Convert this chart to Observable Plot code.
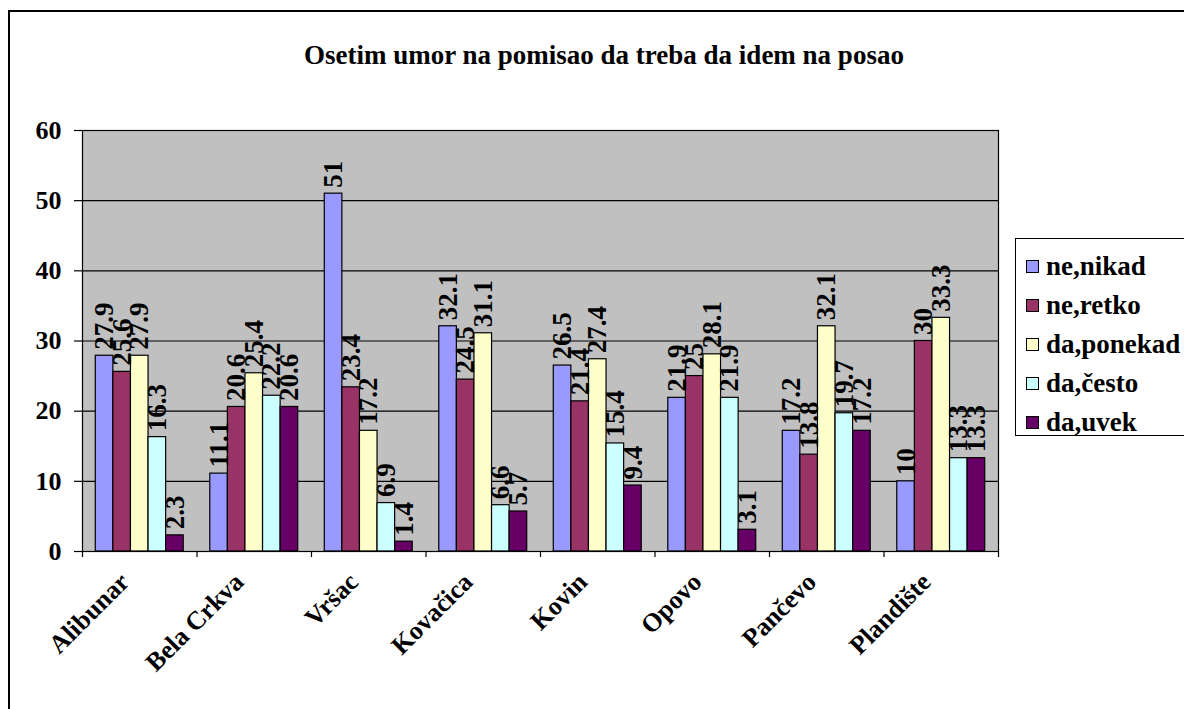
<!DOCTYPE html>
<html>
<head>
<meta charset="utf-8">
<script src="https://cdn.jsdelivr.net/npm/d3@7"></script>
<script src="https://cdn.jsdelivr.net/npm/@observablehq/plot@0.6"></script>
<style>
  body { margin: 0; background: #fff; font-family: 'Liberation Serif', 'DejaVu Serif', serif; }
  #wrap { position: relative; width: 1184px; height: 709px; overflow: hidden; background: #fff; }
  #border { position: absolute; left: 8px; top: 10px; width: 1300px; height: 800px; border: 2px solid #000; box-sizing: border-box; }
  #title { position: absolute; left: 0; top: 37px; width: 1208px; text-align: center; font-family: 'Liberation Serif', 'DejaVu Serif', serif; font-weight: bold; font-size: 27px; line-height: 36px; white-space: nowrap; }
  #chart { position: absolute; left: 0; top: 100px; }
  #legend { position: absolute; left: 1015px; top: 238px; width: 172px; height: 198px; border: 1.5px solid #000; box-sizing: border-box; background: #fff; padding-top: 8px; }
  .item { display: flex; align-items: center; height: 39px; font-family: 'Liberation Serif', 'DejaVu Serif', serif; font-weight: bold; font-size: 27px; white-space: nowrap; }
  .sw { width: 11px; height: 11px; border: 1px solid #000; margin-left: 10px; margin-right: 7px; flex: none; }
</style>
</head>
<body>
<div id="wrap">
  <div id="border"></div>
  <div id="title">Osetim umor na pomisao da treba da idem na posao</div>
  <div id="chart"></div>
  <div id="legend"></div>
</div>
<script>
const categories = ["Alibunar", "Bela Crkva", "Vršac", "Kovačica", "Kovin", "Opovo", "Pančevo", "Plandište"];
const seriesNames = ["ne,nikad", "ne,retko", "da,ponekad", "da,često", "da,uvek"];
const seriesColors = ["#9999FF", "#993366", "#FFFFCC", "#CCFFFF", "#660066"];
const neNikad   = [27.9, 11.1, 51,   32.1, 26.5, 21.9, 17.2, 10];
const neRetko   = [25.6, 20.6, 23.4, 24.5, 21.4, 25,   13.8, 30];
const daPonekad = [27.9, 25.4, 17.2, 31.1, 27.4, 28.1, 32.1, 33.3];
const daCesto   = [16.3, 22.2, 6.9,  6.6,  15.4, 21.9, 19.7, 13.3];
const daUvek    = [2.3,  20.6, 1.4,  5.7,  9.4,  3.1,  17.2, 13.3];
const yTicks = [0, 10, 20, 30, 40, 50, 60];

const seriesValues = [neNikad, neRetko, daPonekad, daCesto, daUvek];

// group layout in category units (each category occupies [i, i+1])
const gap = 0.232;
const barW = (1 - gap) / seriesNames.length;

const rows = [];
categories.forEach((c, i) => {
  seriesNames.forEach((s, j) => {
    const x1 = i + gap / 2 + j * barW;
    rows.push({category: c, series: s, value: seriesValues[j][i], x1, x2: x1 + barW, xm: x1 + barW / 2});
  });
});

const font = "'Liberation Serif', 'DejaVu Serif', serif";

const chart = Plot.plot({
  width: 1010,
  height: 609,
  marginTop: 30,
  marginLeft: 82,
  marginRight: 12,
  marginBottom: 158,
  style: {fontFamily: font, fontWeight: "bold", fontSize: "26px", background: "transparent", color: "#000"},
  x: {domain: [0, categories.length], axis: null},
  y: {domain: [0, 60], axis: null},
  color: {domain: seriesNames, range: seriesColors},
  marks: [
    Plot.frame({fill: "#C0C0C0"}),
    Plot.ruleY(yTicks, {stroke: "#000", strokeWidth: 1.2}),
    Plot.rectY(rows, {x1: "x1", x2: "x2", y1: 0, y2: "value", fill: "series", stroke: "#000", strokeWidth: 1.2}),
    Plot.frame({stroke: "#000", strokeWidth: 1.2}),
    Plot.axisY({ticks: yTicks, label: null, tickSize: 8, tickPadding: 13, fontSize: 26, fontWeight: "bold", fontFamily: font, stroke: "#000", strokeWidth: 1.2}),
    Plot.axisX({ticks: d3.range(0, categories.length + 1), label: null, tickSize: 6, tickFormat: () => "", stroke: "#000", strokeWidth: 1.2}),
    Plot.text(rows, {x: "xm", y: "value", text: d => String(d.value), rotate: -90, textAnchor: "start", dy: -6, fontSize: 27, fontWeight: "bold", fontFamily: font, fill: "#000"}),
    Plot.text(categories, {x: (d, i) => i + 0.5, frameAnchor: "bottom", text: d => d, rotate: -45, textAnchor: "end", dx: -9, dy: 32, fontSize: 26, fontWeight: "bold", fontFamily: font, fill: "#000"})
  ]
});
document.getElementById("chart").appendChild(chart);

const legend = document.getElementById("legend");
seriesNames.forEach((s, j) => {
  const item = document.createElement("div");
  item.className = "item";
  const sw = document.createElement("span");
  sw.className = "sw";
  sw.style.background = seriesColors[j];
  const t = document.createElement("span");
  t.textContent = s;
  item.appendChild(sw);
  item.appendChild(t);
  legend.appendChild(item);
});
</script>
</body>
</html>
